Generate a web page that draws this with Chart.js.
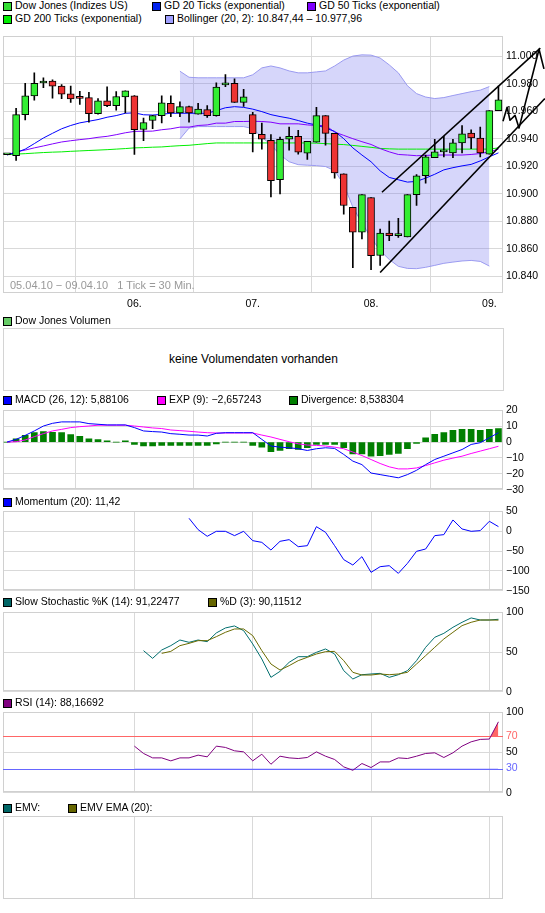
<!DOCTYPE html>
<html>
<head>
<meta charset="utf-8">
<script src="https://cdn.jsdelivr.net/npm/chart.js@4.4.0/dist/chart.umd.min.js"></script>
<style>
  body { margin: 0; background: #fff; }
  #page { position: relative; width: 545px; height: 913px; overflow: hidden;
          font-family: "Liberation Sans", Arial, sans-serif; font-size: 10.5px; color: #000; }
  canvas { position: absolute; left: 0; }
  .lg { position: absolute; white-space: nowrap; line-height: 13px; z-index: 2; }
  .sq { position: absolute; width: 7px; height: 7px; border: 1px solid #000; z-index: 2; }
  #volbox { position: absolute; left: 3px; top: 328px; width: 499px; height: 61px;
            border: 1px solid #d4d4d4; text-align: center; line-height: 61px; font-size: 12px; }
  #period { position: absolute; left: 10px; top: 279px; color: #999; white-space: pre; z-index: 2; font-size: 11px; }
</style>
</head>
<body>
<div id="page">
  <canvas id="mainChart" width="545" height="290" style="top:27px"></canvas>
  <div id="period">05.04.10 − 09.04.10   1 Tick = 30 Min.</div>
  <div id="volbox">keine Volumendaten vorhanden</div>
  <canvas id="macdChart" width="545" height="98" style="top:401px"></canvas>
  <canvas id="momChart" width="545" height="98" style="top:502px"></canvas>
  <canvas id="stochChart" width="545" height="98" style="top:603px"></canvas>
  <canvas id="rsiChart" width="545" height="99" style="top:703px"></canvas>
  <canvas id="emvChart" width="545" height="99" style="top:808px"></canvas>
</div>
<script>
// --- data (30-minute ticks, 05.04.10 - 09.04.10) ---
const dayLabels = ['06.', '07.', '08.', '09.'];
const dayStarts = [14, 27, 40, 53];

const opens = [10928.4, 10927.7, 10957.6, 10971.3, 10980.6, 10982.0, 10978.4, 10972.7, 10969.6, 10970.0,
  10958.3, 10967.7, 10964.1, 10970.5, 10971.3, 10946.8, 10953.3, 10956.9, 10965.9, 10958.8,
  10963.4, 10958.0, 10961.2, 10956.9, 10979.2, 10980.3, 10966.5, 10957.6, 10943.2, 10938.9,
  10910.2, 10939.7, 10941.8, 10929.6, 10937.5, 10956.9, 10944.0, 10914.5, 10890.1, 10872.1,
  10897.3, 10855.1, 10871.4, 10869.5, 10868.7, 10899.4, 10913.1, 10926.2, 10930.5, 10929.8,
  10937.0, 10944.2, 10940.6, 10928.9, 10960.5];
const highs = [10928.4, 10962.1, 10980.3, 10988.0, 10984.4, 10983.0, 10979.4, 10978.4, 10974.6, 10973.9,
  10969.3, 10977.9, 10974.4, 10974.9, 10971.5, 10955.0, 10957.1, 10971.3, 10971.3, 10967.0,
  10963.8, 10965.9, 10964.1, 10980.8, 10986.8, 10983.7, 10976.0, 10959.3, 10951.4, 10943.0,
  10941.3, 10948.5, 10946.1, 10938.2, 10962.9, 10956.9, 10944.0, 10914.5, 10890.1, 10899.4,
  10897.3, 10874.3, 10880.2, 10882.2, 10899.4, 10914.0, 10928.2, 10939.7, 10941.8, 10939.7,
  10949.7, 10946.6, 10948.5, 10960.5, 10978.4];
const lows = [10928.4, 10924.3, 10953.7, 10968.1, 10977.2, 10969.5, 10969.3, 10966.5, 10965.0, 10952.1,
  10958.0, 10963.4, 10960.9, 10958.8, 10928.6, 10938.6, 10947.3, 10951.6, 10956.2, 10956.2,
  10952.1, 10958.0, 10955.5, 10956.4, 10977.9, 10966.5, 10963.6, 10930.5, 10932.5, 10897.7,
  10899.9, 10931.8, 10928.9, 10925.0, 10937.5, 10935.3, 10911.4, 10885.1, 10846.3, 10867.1,
  10844.8, 10847.9, 10865.9, 10868.2, 10868.7, 10891.5, 10907.8, 10926.2, 10926.9, 10926.2,
  10929.8, 10932.9, 10926.9, 10928.9, 10960.5];
const closes = [10928.4, 10957.6, 10971.3, 10980.3, 10982.0, 10978.4, 10972.4, 10969.1, 10969.4, 10958.3,
  10967.7, 10964.1, 10970.8, 10974.9, 10946.7, 10951.9, 10956.9, 10966.2, 10958.8, 10963.4,
  10958.8, 10961.6, 10956.9, 10977.7, 10980.6, 10966.5, 10970.5, 10943.7, 10939.7, 10909.5,
  10939.7, 10941.8, 10930.3, 10938.2, 10956.9, 10944.0, 10915.2, 10891.5, 10872.1, 10899.4,
  10854.9, 10871.4, 10869.5, 10870.7, 10899.4, 10913.1, 10926.9, 10930.5, 10930.8, 10937.0,
  10943.7, 10940.6, 10929.8, 10960.5, 10968.4];

const gd20 = [10928.4, 10930.0, 10932.5, 10936.5, 10940.6, 10944.0, 10947.3, 10949.7, 10951.6, 10952.8,
  10954.0, 10955.7, 10956.9, 10958.6, 10958.9, 10957.5, 10957.3, 10957.8, 10958.6, 10958.6,
  10958.6, 10958.6, 10958.6, 10960.5, 10962.6, 10963.4, 10962.9, 10961.6, 10959.8, 10957.6,
  10956.2, 10955.0, 10953.3, 10951.4, 10950.1, 10947.8, 10945.4, 10940.1, 10933.4, 10928.2,
  10923.3, 10916.7, 10911.9, 10910.2, 10908.5, 10909.0, 10911.4, 10914.2, 10917.4, 10919.0,
  10920.3, 10921.4, 10923.9, 10926.9, 10929.8];
const gd50 = [10928.2, 10930.5, 10931.8, 10933.4, 10934.8, 10936.3, 10937.7, 10938.6, 10939.4, 10940.1,
  10941.1, 10941.8, 10943.0, 10944.4, 10945.4, 10945.5, 10945.6, 10946.6, 10947.3, 10948.5,
  10948.5, 10949.7, 10950.1, 10951.4, 10951.4, 10952.6, 10952.6, 10952.8, 10952.6, 10952.1,
  10950.9, 10950.9, 10950.9, 10950.1, 10949.7, 10949.7, 10944.9, 10942.5, 10940.1, 10937.9,
  10935.9, 10932.9, 10930.5, 10928.6, 10928.2, 10927.7, 10927.9, 10928.2, 10928.2, 10928.2,
  10928.2, 10928.6, 10929.3, 10930.5, 10932.5];
const gd200 = [10928.4, 10928.9, 10929.2, 10929.6, 10930.0, 10930.3, 10930.5, 10930.9, 10931.2, 10931.5,
  10931.8, 10932.1, 10932.5, 10932.9, 10933.4, 10933.6, 10933.9, 10934.1, 10934.6, 10935.0,
  10935.3, 10935.9, 10936.5, 10937.0, 10937.0, 10937.0, 10937.0, 10937.0, 10937.0, 10937.0,
  10937.0, 10937.0, 10937.0, 10937.0, 10936.8, 10936.5, 10936.1, 10935.8, 10935.2, 10934.5,
  10933.8, 10933.0, 10932.7, 10932.5, 10932.5, 10932.5, 10932.5, 10932.5, 10932.5, 10932.5,
  10932.5, 10932.5, 10932.5, 10932.5, 10933.4];

// Bollinger (20, 2) starts at tick 19
const bandStart = 19;
const bandUpper = [10989.2, 10984.8, 10984.4, 10984.4, 10984.4, 10984.4, 10984.4, 10984.4, 10986.6, 10991.6,
  10993.0, 10991.6, 10989.4, 10988.0, 10988.0, 10988.7, 10989.4, 10993.0, 10997.3, 11000.2,
  11001.1, 11000.9, 10998.8, 10993.8, 10988.0, 10978.6, 10972.9, 10970.4, 10969.3, 10970.0,
  10971.5, 10972.9, 10974.3, 10975.4, 10978.0];
const bandLower = [10939.9, 10947.8, 10948.9, 10948.9, 10948.9, 10948.9, 10948.9, 10948.9, 10947.4, 10941.3,
  10935.6, 10928.4, 10923.3, 10921.2, 10920.8, 10920.5, 10919.8, 10916.9, 10906.8, 10890.3,
  10878.8, 10868.0, 10858.7, 10852.2, 10847.2, 10845.7, 10845.5, 10846.5, 10847.9, 10849.4,
  10850.3, 10851.1, 10851.5, 10850.8, 10847.4];

// hand-drawn trend channel and arrow (tick index, price)
const trendLines = [
  [[41.2, 10901.1], [58.6, 11006.0]],
  [[41.0, 10842.7], [59.1, 10969.3]],
  [[54.5, 10952.8], [54.95, 10962.9], [55.27, 10953.5], [55.82, 10957.1], [56.26, 10947.8], [58.46, 11005.2], [59.0, 10990.9]]
];

const macd = [0, 1.7, 4.2, 7, 10.1, 11.8, 12.7, 12.7, 12.7, 11.6,
  11.2, 10.8, 10.8, 10.8, 9.1, 7, 6.6, 6.3, 5.3, 4.9,
  4.4, 4.4, 3.8, 5.5, 5.9, 5.9, 5.9, 5.9, 1.7, -2.5,
  -3.2, -3.6, -4.2, -5.3, -4.2, -3.6, -4, -7.8, -12, -14.2,
  -19.5, -20.5, -21.5, -22.5, -20.5, -17.8, -14.2, -11, -8.9, -6.8,
  -4.7, -1.5, -0.4, 2.7, 5.88];
const macdSignal = [0, 0.2, 1.3, 3.4, 5.3, 7, 8, 9.1, 9.7, 10.1,
  10.6, 10.6, 10.6, 10.6, 10.1, 9.5, 8.9, 8.5, 7.6, 7.2,
  6.8, 6.3, 5.9, 5.7, 5.7, 5.7, 5.7, 5.7, 4.4, 3.2,
  1.7, 0.2, -1.1, -1.9, -2.1, -2.5, -3.2, -4.2, -6.3, -8.5,
  -11, -13.5, -15.6, -16.9, -16.9, -16.3, -14.8, -13.1, -11.4, -10.1,
  -8.9, -7.2, -5.7, -4.2, -2.66];
const divergence = [0, 2.1, 4.2, 5.9, 6.6, 6.1, 5.9, 4.7, 3.6, 2.1,
  1.5, 0.8, 0, 0.8, -1.5, -2.5, -2.5, -2.1, -2.1, -2.1,
  -2.1, -2.1, -2.1, -1.1, 0, 0, 0, -2.1, -3.2, -6.1,
  -5.3, -4.2, -4.7, -3.6, -1.5, -1.5, -1.5, -3.6, -7.4, -7.4,
  -8.9, -8.5, -7.8, -7.2, -4.2, -0.8, 2.7, 4.9, 5.9, 7.4,
  8, 8, 7.4, 8, 8.5];

const momStart = 20;
const momentum = [32.4, 3.8, -13, -0.4, -0.4, -11.3, -0.4, -24, -28.2, -47.5,
  -25.6, -21.4, -39.1, -36.6, 11.3, -2.9, -36.6, -71.8, -85.3, -64.3,
  -103.8, -89.5, -87, -106.3, -81.1, -50.8, -45, -11.3, -8.8, 28.2,
  5.5, -0.4, 1.3, 24.8, 11.42];

const stochKStart = 15;
const stochK = [51.7, 42, 52.5, 58, 65.1, 62.2, 65.1, 63, 74, 80.3,
  82.8, 76.9, 60.1, 41.2, 18.1, 25.6, 37, 44.1, 44.1, 49.6,
  53.8, 47.5, 26.5, 16, 21.4, 22.3, 23.1, 18.1, 21.4, 26.5,
  39.1, 55.9, 68.5, 73.5, 81.1, 87.4, 92.9, 90.3, 90.3, 91.22];
const stochDStart = 17;
const stochD = [48.3, 50.8, 58, 60.9, 64.3, 64.3, 69.3, 74.8, 79, 79,
  70.6, 51.7, 34.9, 27.3, 32.8, 39.1, 43.3, 47.5, 50.4, 50.8,
  39.1, 24.4, 21, 21, 22.3, 21.4, 22.3, 24.4, 34.9, 45.4,
  55.9, 66.4, 74.8, 83.2, 87.4, 90.3, 90.3, 90.12];

const rsiStart = 14;
const rsi = [57.9, 48.8, 43.3, 43.3, 39.6, 43.3, 43.3, 46.7, 44.6, 57.9,
  56.3, 52.1, 50.8, 39.6, 47.9, 35.4, 45.4, 43.3, 42.5, 43.8,
  50.8, 45.4, 41.3, 32.1, 27.9, 36.3, 31.3, 38.3, 38.3, 43.3,
  42.5, 45.4, 48.8, 49.6, 43.8, 49.6, 57.9, 63.3, 66.3, 66.7, 88.17];
const rsiLevels = [70, 30];

// --- helpers ---
const FONT = '"Liberation Sans", Arial, sans-serif';
const GRID = '#d9d9d9';
const X_MIN = -0.44, X_MAX = 54.5;

function xy(values, start) {
  return values.map((v, i) => ({ x: i + (start || 0), y: v }));
}

function legend(x, y, color, text) {
  const page = document.getElementById('page');
  const sq = document.createElement('div');
  sq.className = 'sq';
  sq.style.left = x + 'px';
  sq.style.top = (y - 4) + 'px';
  sq.style.background = color;
  page.appendChild(sq);
  const t = document.createElement('div');
  t.className = 'lg';
  t.style.left = (x + 12) + 'px';
  t.style.top = (y - 7) + 'px';
  t.textContent = text;
  page.appendChild(t);
}

function deNum(v) {
  const s = String(Math.round(v));
  return s.length > 3 ? s.slice(0, -3) + '.' + s.slice(-3) : s;
}
function signed(v) {
  return v < 0 ? '\u2212' + Math.abs(v) : String(v);
}

const framePlugin = {
  id: 'frame',
  beforeDatasetsDraw(chart) {
    const { ctx, chartArea: a } = chart;
    ctx.save();
    ctx.strokeStyle = '#d0d0d0';
    ctx.lineWidth = 1;
    ctx.strokeRect(Math.round(a.left) + 0.5, Math.round(a.top) + 0.5,
      Math.round(a.right - a.left) - 1, Math.round(a.bottom - a.top) - 1);
    ctx.restore();
  }
};

function dayAxis(showLabels) {
  return {
    type: 'linear', min: X_MIN, max: X_MAX, offset: false,
    afterBuildTicks: s => { s.ticks = dayStarts.map(v => ({ value: v })); },
    afterFit: s => { s.height = showLabels ? 18 : 0; },
    grid: { color: GRID, drawTicks: false },
    border: { display: false },
    ticks: {
      display: showLabels, padding: 5, maxRotation: 0, autoSkip: false,
      color: '#000', font: { family: FONT, size: 10.5 },
      callback: v => dayLabels[dayStarts.indexOf(v)]
    }
  };
}

function rightAxis(min, max, ticks, fmt, extra) {
  return Object.assign({
    position: 'right', min: min, max: max,
    afterFit: s => { s.width = 42; },
    afterBuildTicks: s => { s.ticks = ticks.map(v => ({ value: v })); },
    grid: { color: GRID, drawTicks: false },
    border: { display: false },
    ticks: { color: '#000', padding: 3, font: { family: FONT, size: 10.5 }, callback: fmt }
  }, extra || {});
}

function lineSet(data, color, order) {
  return {
    type: 'line', data: data, borderColor: color, borderWidth: 1,
    pointRadius: 0, tension: 0, fill: false, order: order
  };
}

function baseOptions(padTop, padBottom, scales) {
  return {
    responsive: false, animation: false,
    layout: { padding: { left: 3, right: 0, top: padTop, bottom: padBottom } },
    plugins: { legend: { display: false }, tooltip: { enabled: false } },
    scales: scales
  };
}

// --- legends ---
legend(3, 6, '#33dd33', 'Dow Jones (Indizes US)');
legend(152, 6, '#0022ee', 'GD 20 Ticks (exponential)');
legend(307, 6, '#7f00ff', 'GD 50 Ticks (exponential)');
legend(3, 19, '#00ee00', 'GD 200 Ticks (exponential)');
legend(165, 19, '#a0a0ff', 'Bollinger (20, 2): 10.847,44 \u2013 10.977,96');
legend(3, 321, '#66cc66', 'Dow Jones Volumen');
legend(3, 400, '#0000ff', 'MACD (26, 12): 5,88106');
legend(157, 400, '#ff00ff', 'EXP (9): \u22122,657243');
legend(289, 400, '#007f00', 'Divergence: 8,538304');
legend(3, 502, '#0000ff', 'Momentum (20): 11,42');
legend(3, 602, '#006666', 'Slow Stochastic %K (14): 91,22477');
legend(208, 602, '#666600', '%D (3): 90,11512');
legend(3, 703, '#800080', 'RSI (14): 88,16692');
legend(3, 808, '#006666', 'EMV:');
legend(68, 808, '#666600', 'EMV EMA (20):');

// --- main price chart ---
const trendPlugin = {
  id: 'trend',
  afterDatasetsDraw(chart) {
    const { ctx, scales: { x, y } } = chart;
    ctx.save();
    ctx.strokeStyle = '#000';
    ctx.lineWidth = 1.6;
    ctx.lineJoin = 'round';
    trendLines.forEach(pts => {
      ctx.beginPath();
      pts.forEach(([a, b], k) => {
        const px = x.getPixelForValue(a), py = y.getPixelForValue(b);
        if (k) ctx.lineTo(px, py); else ctx.moveTo(px, py);
      });
      ctx.stroke();
    });
    ctx.restore();
  }
};

const candleColors = closes.map((c, i) => c >= opens[i] ? '#33ee33' : '#ee3333');

new Chart(document.getElementById('mainChart'), {
  type: 'bar',
  data: {
    datasets: [
      lineSet(xy(bandUpper, bandStart), '#9a9af0', 6),
      Object.assign(lineSet(xy(bandLower, bandStart), '#9a9af0', 6),
        { fill: '-1', backgroundColor: 'rgba(120,120,240,0.3)' }),
      lineSet(xy(gd200), '#00ee00', 5),
      lineSet(xy(gd50), '#8000ff', 4),
      lineSet(xy(gd20), '#0000ff', 3),
      {
        type: 'bar', data: lows.map((l, i) => ({ x: i, y: [l, highs[i]] })),
        backgroundColor: '#000', barThickness: 1, grouped: false, order: 2
      },
      {
        type: 'bar', data: opens.map((o, i) => ({ x: i, y: [o, closes[i]] })),
        backgroundColor: candleColors, borderColor: '#000', borderWidth: 1,
        borderSkipped: false, barThickness: 7, minBarLength: 2, grouped: false, order: 1
      }
    ]
  },
  options: baseOptions(6, 6, {
    x: dayAxis(true),
    y: rightAxis(10827.8, 11014.6, [10840, 10860, 10880, 10900, 10920, 10940, 10960, 10980, 11000], deNum)
  }),
  plugins: [framePlugin, trendPlugin]
});

// --- MACD ---
new Chart(document.getElementById('macdChart'), {
  type: 'bar',
  data: {
    datasets: [
      lineSet(xy(macd), '#0000ff', 1),
      lineSet(xy(macdSignal), '#ff00ff', 2),
      {
        type: 'bar', data: xy(divergence), backgroundColor: '#007f00',
        barThickness: 6, grouped: false, order: 3
      }
    ]
  },
  options: baseOptions(8, 8, {
    x: dayAxis(false),
    y: rightAxis(-30, 20, [-30, -20, -10, 0, 10, 20], signed)
  }),
  plugins: [framePlugin]
});

// --- Momentum ---
new Chart(document.getElementById('momChart'), {
  type: 'line',
  data: { datasets: [lineSet(xy(momentum, momStart), '#0000ff', 1)] },
  options: baseOptions(8, 8, {
    x: dayAxis(false),
    y: rightAxis(-150, 50, [-150, -100, -50, 0, 50], signed)
  }),
  plugins: [framePlugin]
});

// --- Slow Stochastic ---
new Chart(document.getElementById('stochChart'), {
  type: 'line',
  data: {
    datasets: [
      lineSet(xy(stochK, stochKStart), '#006e6e', 2),
      lineSet(xy(stochD, stochDStart), '#6b6b00', 1)
    ]
  },
  options: baseOptions(8, 8, {
    x: dayAxis(false),
    y: rightAxis(0, 100, [0, 50, 100], String)
  }),
  plugins: [framePlugin]
});

// --- RSI ---
const levelPlugin = {
  id: 'levels',
  beforeDatasetsDraw(chart) {
    const { ctx, chartArea: a, scales: { y } } = chart;
    const colors = { 70: '#ff6666', 30: '#6666ff' };
    ctx.save();
    ctx.lineWidth = 1;
    rsiLevels.forEach(lv => {
      const py = Math.round(y.getPixelForValue(lv)) + 0.5;
      ctx.strokeStyle = colors[lv];
      ctx.beginPath();
      ctx.moveTo(a.left, py);
      ctx.lineTo(a.right, py);
      ctx.stroke();
    });
    ctx.restore();
  }
};

new Chart(document.getElementById('rsiChart'), {
  type: 'line',
  data: {
    datasets: [
      Object.assign(lineSet(xy(rsi, rsiStart), '#800080', 1),
        { fill: { target: { value: 70 }, above: '#ff6666', below: 'rgba(0,0,0,0)' } }),
      Object.assign(lineSet(xy(rsi, rsiStart), 'rgba(0,0,0,0)', 2),
        { fill: { target: { value: 30 }, above: 'rgba(0,0,0,0)', below: '#6666ff' } })
    ]
  },
  options: baseOptions(8, 8, {
    x: dayAxis(false),
    y: rightAxis(0, 100, [0, 30, 50, 70, 100], String, {
      grid: {
        drawTicks: false,
        color: c => (c.tick && (c.tick.value === 30 || c.tick.value === 70)) ? 'rgba(0,0,0,0)' : GRID
      },
      ticks: {
        padding: 3, font: { family: FONT, size: 10.5 },
        color: c => c.tick.value === 70 ? '#ff6666' : c.tick.value === 30 ? '#6666ff' : '#000'
      }
    })
  }),
  plugins: [framePlugin, levelPlugin]
});

// --- EMV (no data) ---
new Chart(document.getElementById('emvChart'), {
  type: 'line',
  data: { datasets: [] },
  options: baseOptions(8, 8, {
    x: dayAxis(false),
    y: {
      position: 'right', min: 0, max: 1,
      afterFit: s => { s.width = 42; },
      grid: { display: false }, border: { display: false }, ticks: { display: false }
    }
  }),
  plugins: [framePlugin]
});
</script>
</body>
</html>
